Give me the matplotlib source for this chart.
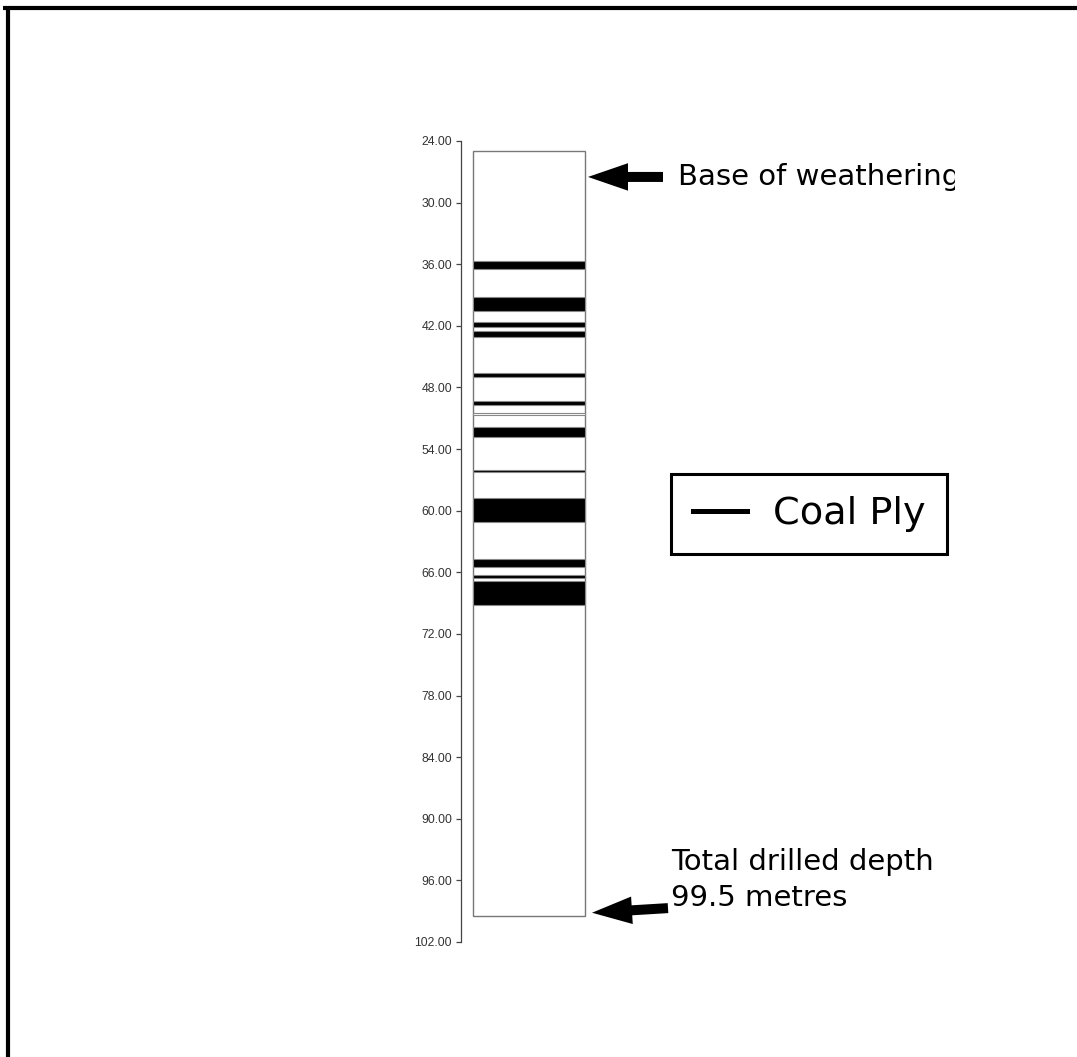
import matplotlib
matplotlib.use("Agg")
import matplotlib.pyplot as plt
from matplotlib.lines import Line2D

# ---- data ----
hole_top = 25.0
hole_bottom = 99.5
weathering_depth = 27.5
ply_top = [35.7, 39.2, 41.62, 42.5, 46.62, 49.35, 50.45, 51.82, 56.0, 58.79, 64.75, 66.3, 66.82]
ply_bottom = [36.5, 40.55, 42.14, 43.06, 46.98, 49.74, 50.70, 52.85, 56.28, 61.07, 65.5, 66.55, 69.18]
ply_fill = ["black"] * 6 + ["white"] + ["black"] * 6
depth_ticks = [24, 30, 36, 42, 48, 54, 60, 66, 72, 78, 84, 90, 96, 102]
tick_labels = [f"{t:.2f}" for t in depth_ticks]
legend_label = "Coal Ply"
top_note = "Base of weathering"
bottom_note = ["Total drilled depth", "99.5 metres"]

W, H = 1077, 1057
fig = plt.figure(figsize=(W / 100, H / 100), dpi=100)
fig.patch.set_facecolor("white")

# page frame (top and left edges)
fig.add_artist(Line2D([3 / W, 1.0], [1 - 8 / H, 1 - 8 / H], color="black", lw=3.0,
                      transform=fig.transFigure, solid_capstyle="butt"))
fig.add_artist(Line2D([8 / W, 8 / W], [0.0, 1 - 6 / H], color="black", lw=3.0,
                      transform=fig.transFigure, solid_capstyle="butt"))

ax_l, ax_r = 461, 955
ax_t, ax_b = 141, 942
ax = fig.add_axes([ax_l / W, 1 - ax_b / H, (ax_r - ax_l) / W, (ax_b - ax_t) / H])
ax.set_xlim(0, ax_r - ax_l)
ax.set_ylim(102, 24)
ax.patch.set_alpha(0)
for s in ["top", "right", "bottom"]:
    ax.spines[s].set_visible(False)
ax.spines["left"].set_color("#444444")
ax.spines["left"].set_linewidth(0.9)
ax.set_xticks([])
ax.set_yticks(depth_ticks)
ax.set_yticklabels(tick_labels, fontfamily="Liberation Sans", fontsize=8.8, color="#333333")
ax.tick_params(axis="y", length=3.6, width=0.9, color="#444444", pad=2.8)

col_x0, col_x1 = 12, 124
col_c = (col_x0 + col_x1) / 2
col_w = col_x1 - col_x0

# borehole column
ax.bar(col_c, hole_bottom - hole_top, bottom=hole_top, width=col_w,
       facecolor="white", edgecolor="#777777", linewidth=1.0, zorder=2)
# coal plies
heights = [b - t for t, b in zip(ply_top, ply_bottom)]
ax.bar([col_c] * len(ply_top), heights, bottom=ply_top, width=col_w,
       color=ply_fill, edgecolor="#888888", linewidth=0.8, zorder=3)

arrow_style = "simple,head_length=0.8,head_width=0.55,tail_width=0.2"
aprops = dict(arrowstyle=arrow_style, mutation_scale=36, fc="black", ec="black", lw=0,
              shrinkA=0, shrinkB=0)
# base of weathering arrow + text
ax.annotate("", xy=(col_x1 + 3, weathering_depth), xytext=(col_x1 + 78, weathering_depth),
            arrowprops=aprops, annotation_clip=False)
ax.text(217, weathering_depth, top_note, fontsize=21, va="center", ha="left",
        fontfamily="DejaVu Sans", color="black", clip_on=True)

# total depth arrow + text
ax.annotate("", xy=(col_x1 + 7, hole_bottom - 0.35), xytext=(col_x1 + 83, hole_bottom - 0.8),
            arrowprops=aprops, annotation_clip=False)
ax.text(210, 94.2, bottom_note[0], fontsize=21, va="center", ha="left", fontfamily="DejaVu Sans")
ax.text(210, 97.71, bottom_note[1], fontsize=21, va="center", ha="left", fontfamily="DejaVu Sans")

# legend
leg = ax.legend(handles=[Line2D([], [], color="black", lw=3.6)], labels=[legend_label],
                loc="upper left",
                bbox_to_anchor=((671 - ax_l) / (ax_r - ax_l), 1 - (474 - ax_t) / (ax_b - ax_t)),
                bbox_transform=ax.transAxes, borderaxespad=0,
                frameon=True, fancybox=False, framealpha=1, edgecolor="black",
                prop={"family": "DejaVu Sans", "size": 27.5},
                handlelength=1.42, handletextpad=0.66, borderpad=0.58)
leg.get_frame().set_linewidth(2.2)

fig.savefig("out.png", dpi=100, facecolor="white")
